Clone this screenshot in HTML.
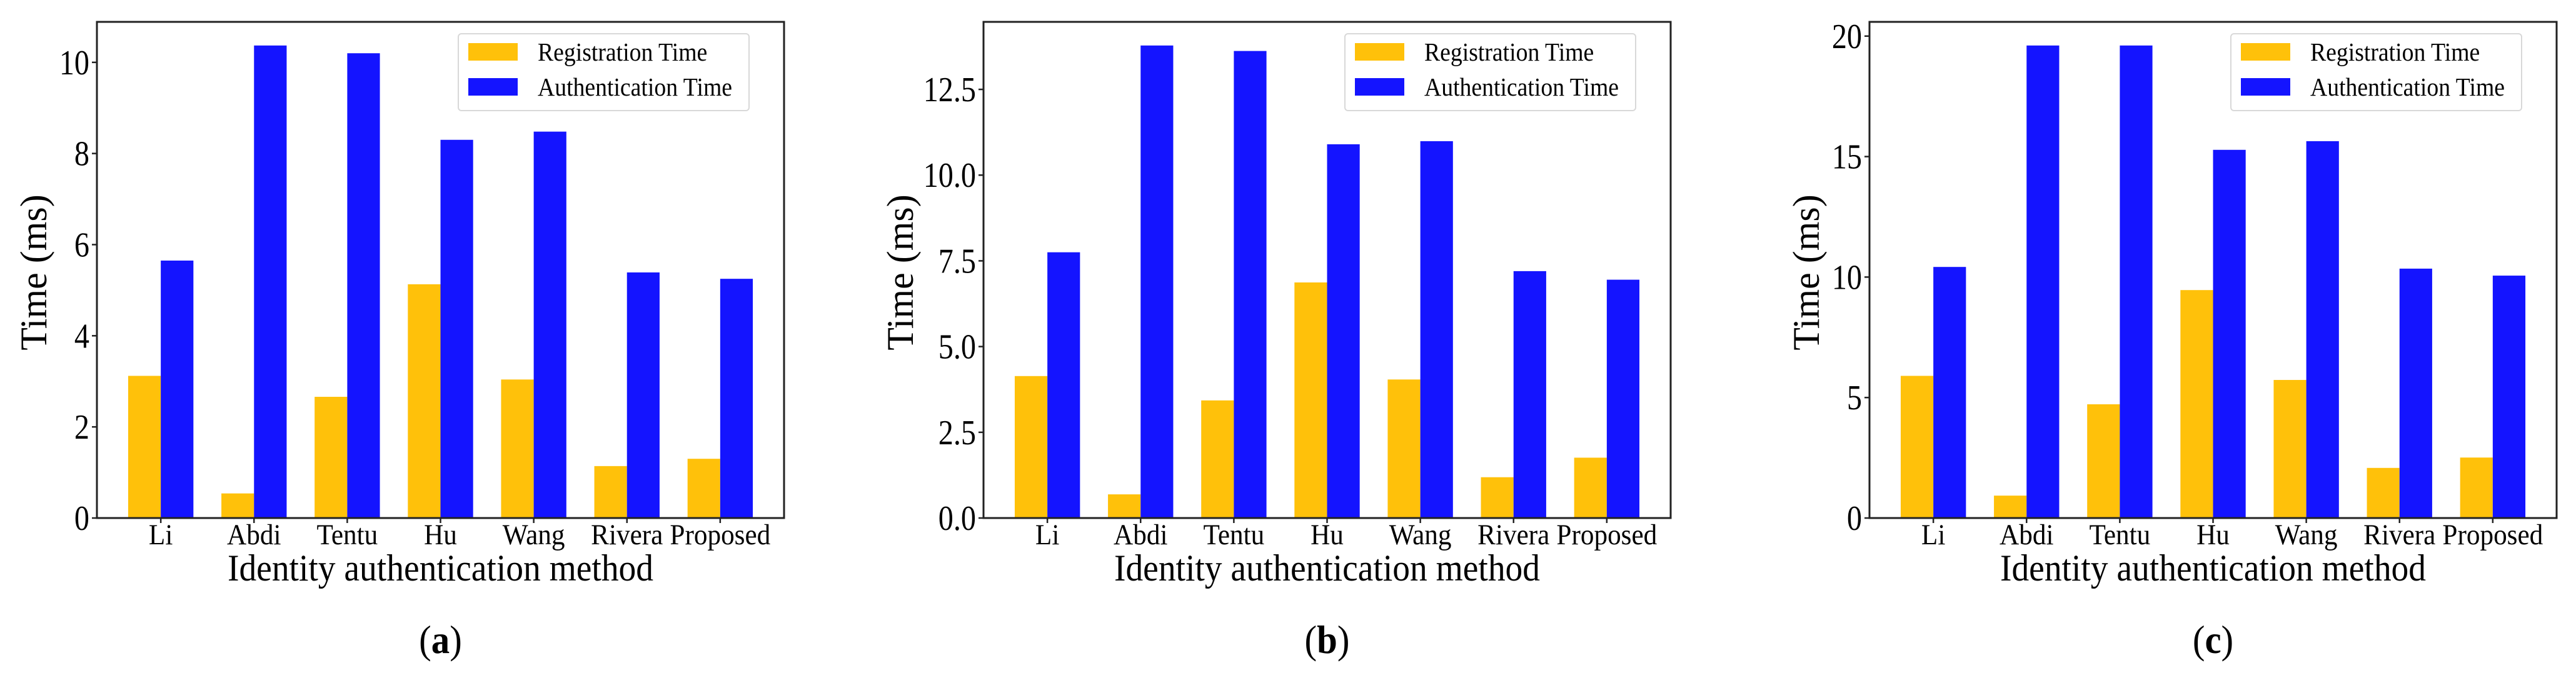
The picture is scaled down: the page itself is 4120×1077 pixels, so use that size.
<!DOCTYPE html>
<html><head><meta charset="utf-8"><style>
html,body{margin:0;padding:0;background:#fff;}
svg{display:block;}
svg text{font-family:"Liberation Serif","Times New Roman",serif;}
</style></head><body>
<svg id="fig" width="4120" height="1077" viewBox="0 0 4120 1077" xmlns="http://www.w3.org/2000/svg" font-family="Liberation Serif, serif"></svg>
<script>
const categories = ["Li","Abdi","Tentu","Hu","Wang","Rivera","Proposed"];
const seriesNames = ["Registration Time","Authentication Time"];
const regA = [3.12,0.54,2.66,5.13,3.04,1.14,1.30];
const authA = [5.65,10.37,10.20,8.30,8.48,5.39,5.25];
const regB = [4.14,0.69,3.43,6.87,4.04,1.19,1.76];
const authB = [7.75,13.78,13.62,10.90,10.99,7.20,6.95];
const regC = [5.90,0.93,4.72,9.46,5.73,2.08,2.51];
const authC = [10.42,19.61,19.61,15.28,15.64,10.35,10.06];
const ticksA = [0,2,4,6,8,10];
const ticksB = [0,2.5,5,7.5,10,12.5];
const ticksC = [0,5,10,15,20];
const tickLabelsA = ["0","2","4","6","8","10"];
const tickLabelsB = ["0.0","2.5","5.0","7.5","10.0","12.5"];
const tickLabelsC = ["0","5","10","15","20"];
const captions = ["a","b","c"];

const NS="http://www.w3.org/2000/svg";
const svg=document.getElementById('fig');
const FONT='Liberation Serif, Times New Roman, serif';
function mk(tag,attrs,parent){const e=document.createElementNS(NS,tag);for(const k in attrs)e.setAttribute(k,attrs[k]);if(tag==='text')e.setAttribute('font-family',FONT);(parent||svg).appendChild(e);return e;}
function txt(x,y,size,anchor,sx,parent){return mk('text',{x:0,y:0,"text-anchor":anchor,"font-size":size,fill:'#000',transform:`translate(${x} ${y}) scale(${sx} 1)`},parent);}
const COLORS=["#ffc10a","#1414ff"];
const panels=[
 {left:155,reg:regA,auth:authA,ticks:ticksA,labels:tickLabelsA,key:"a",yl:81},
 {left:1573,reg:regB,auth:authB,ticks:ticksB,labels:tickLabelsB,key:"b",yl:113},
 {left:2990,reg:regC,auth:authC,ticks:ticksC,labels:tickLabelsC,key:"c",yl:81}];
const W=1099, TOP=35, BOT=829;
panels.forEach((p,pi)=>{
  const g=mk('g',{});
  
  
  const n=categories.length, bw=0.35;
  const xmin=-bw-0.05*(n-1+2*bw), xmax=(n-1)+bw+0.05*(n-1+2*bw);
  const ymax=Math.max(...p.auth,...p.reg)*1.05;
  const xs=v=>p.left+(v-xmin)/(xmax-xmin)*W;
  const ys=v=>BOT-v/ymax*(BOT-TOP);
  const unit=W/(xmax-xmin);
  [p.reg,p.auth].forEach((arr,si)=>{
    arr.forEach((v,i)=>{
      const cx=i+(si===0?-bw/2:bw/2);
      const r=mk('rect',{x:xs(cx-bw/2),y:ys(v),width:unit*bw,height:BOT-ys(v),fill:COLORS[si]},g);
      
      
    });
  });
  const fr=mk('rect',{x:p.left,y:TOP,width:W,height:BOT-TOP,fill:'none',stroke:'#222',"stroke-width":3},g);
  
  
  p.ticks.forEach((t,i)=>{
    const y=ys(t);
    mk('line',{x1:p.left-8,x2:p.left,y1:y,y2:y,stroke:'#222',"stroke-width":2.5},g);
    const tx=txt(p.left-12,y+19,56,'end',0.86,g);
    tx.textContent=p.labels[i];
    
    
  });
  categories.forEach((c,i)=>{
    const x=xs(i);
    mk('line',{x1:x,x2:x,y1:BOT,y2:BOT+8,stroke:'#222',"stroke-width":2.5},g);
    const tx=txt(x,871,47,'middle',0.92,g);
    tx.textContent=c;
    
    
  });
  const cx=p.left+W/2;
  const xl=txt(cx,929,60,'middle',0.925,g);
  xl.textContent="Identity authentication method";
  
  
  const ylx=p.left-p.yl;
  const yl=mk('text',{x:ylx,y:436,"text-anchor":"middle","font-size":60,fill:'#000',transform:`rotate(-90 ${ylx} 436)`},g);
  yl.textContent="Time (ms)";
  
  
  const lx=p.left+578;
  const lg=mk('g',{},g);
  
  
  mk('rect',{x:lx,y:54,width:465,height:123,rx:5,fill:'#fff',stroke:'#d8d8d8',"stroke-width":2},lg);
  seriesNames.forEach((s,si)=>{
    const yy=69+si*56;
    const sw=mk('rect',{x:lx+16,y:yy,width:79,height:28,fill:COLORS[si]},lg);
    
    
    const t=txt(lx+127,yy+28,41,'start',0.92,lg);
    t.textContent=s;
    
    
  });
  const cap=txt(cx,1045,64,'middle',0.92,g);
  
  
  const t1=mk('tspan',{},cap);t1.textContent="(";
  const t2=mk('tspan',{"font-weight":"bold"},cap);t2.textContent=captions[pi];
  const t3=mk('tspan',{},cap);t3.textContent=")";
});
</script>
</body></html>
